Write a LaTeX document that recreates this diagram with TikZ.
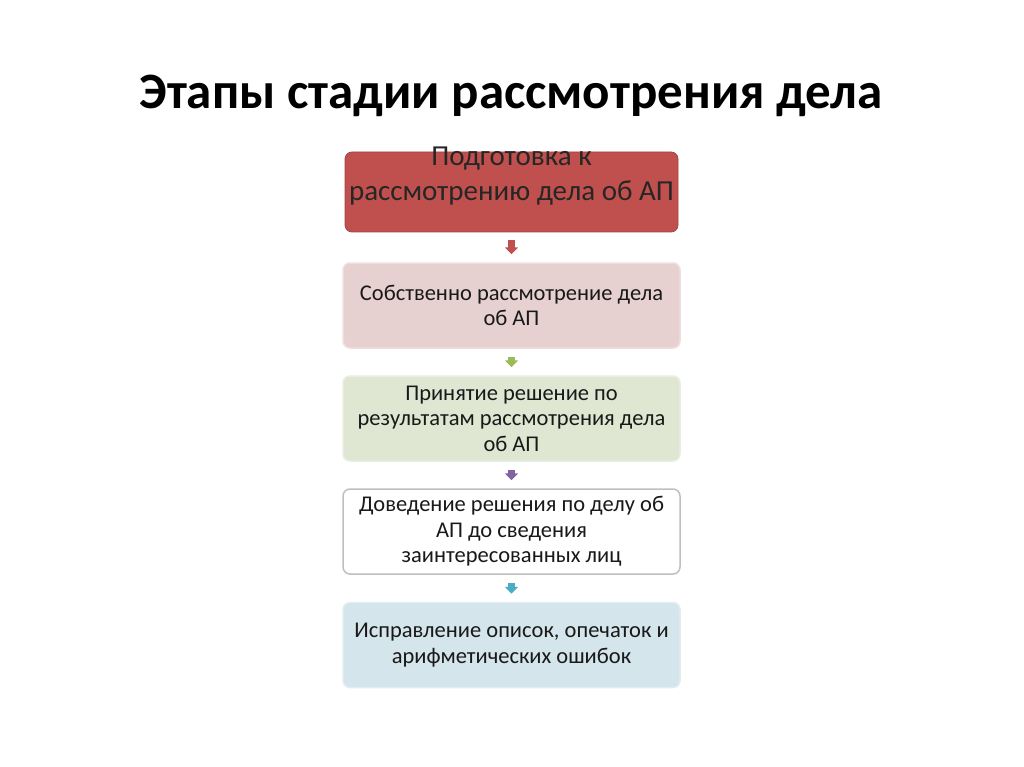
\documentclass[tikz,border=0pt]{standalone}
\usepackage{fontspec}
\setmainfont{Carlito}
\usetikzlibrary{arrows.meta}

\definecolor{stepred}{HTML}{C0504D}
\definecolor{steppink}{HTML}{E7D1D0}
\definecolor{stepgreen}{HTML}{DFE7D3}
\definecolor{stepblue}{HTML}{D4E5EB}
\definecolor{arrred}{HTML}{C0504D}
\definecolor{arrgreen}{HTML}{9BBB59}
\definecolor{arrpurple}{HTML}{8064A2}
\definecolor{arrblue}{HTML}{4BACC6}

\tikzset{
  stagebox/.style={rounded corners=7pt, minimum width=337pt, minimum height=85pt,
    align=center, font=\fontsize{22.5}{25.5}\selectfont, text=black!90},
  stagearrow/.style={line width=7pt, shorten <=8pt, shorten >=8pt,
    -{Triangle[width=13pt,length=7pt]}}
}

\begin{document}
\begin{tikzpicture}[x=1pt,y=1pt,yscale=-1,xscale=1]
\useasboundingbox[fill=white] (0,0) rectangle (1024,767);

% Text Node
\node (title) at (511,96) {\fontsize{51}{56}\selectfont\bfseries Этапы стадии рассмотрения дела};
% Text Node
\node [stagebox, fill=stepred, draw=stepred!85!black, line width=0.8pt,
  minimum width=333pt, minimum height=80pt] (prep) at (511.5,192) {};
\node [align=center, font=\fontsize{29}{35}\selectfont, text=black!85] (preptext)
  at ([yshift=-16pt]prep.center) {Подготовка к\\рассмотрению дела об АП};
% Text Node
\node [stagebox, fill=steppink, draw=steppink!70!white, line width=1.5pt] (hear) at (511.5,305.5)
  {Собственно рассмотрение дела\\об АП};
% Text Node
\node [stagebox, fill=stepgreen, draw=stepgreen!70!white, line width=1.5pt] (decide) at (511.5,418.5)
  {Принятие решение по\\результатам рассмотрения дела\\об АП};
% Text Node
\node [stagebox, fill=white, draw=black!25, line width=1.5pt] (notify) at (511.5,531.5)
  {Доведение решения по делу об\\АП до сведения\\заинтересованных лиц};
% Text Node
\node [stagebox, fill=stepblue, draw=stepblue!70!white, line width=1.5pt] (fix) at (511.5,645)
  {Исправление описок, опечаток и\\арифметических ошибок};

% Connection
\draw [stagearrow, arrred] (prep) -- (hear);
% Connection
\draw [stagearrow, arrgreen] (hear) -- (decide);
% Connection
\draw [stagearrow, arrpurple] (decide) -- (notify);
% Connection
\draw [stagearrow, arrblue] (notify) -- (fix);

\end{tikzpicture}
\end{document}
